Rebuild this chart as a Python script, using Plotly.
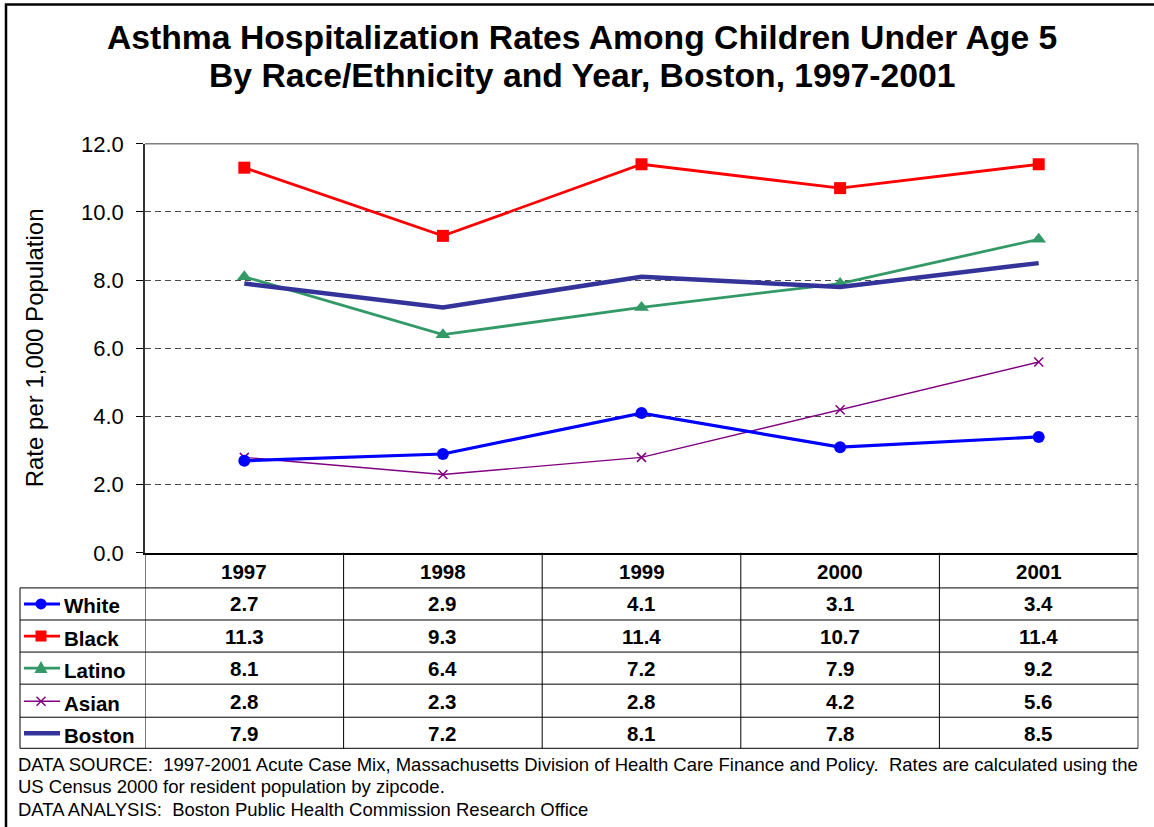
import plotly.graph_objects as go

W, H = 1154, 827

years = ["1997", "1998", "1999", "2000", "2001"]
white = [2.7, 2.9, 4.1, 3.1, 3.4]
black = [11.3, 9.3, 11.4, 10.7, 11.4]
latino = [8.1, 6.4, 7.2, 7.9, 9.2]
asian = [2.8, 2.3, 2.8, 4.2, 5.6]
boston = [7.9, 7.2, 8.1, 7.8, 8.5]

series_names = ["White", "Black", "Latino", "Asian", "Boston"]
series_values = [white, black, latino, asian, boston]
colors = {"White": "#0000FF", "Black": "#FF0000", "Latino": "#339966",
          "Asian": "#800080", "Boston": "#333399"}

FONT = "Liberation Sans, Arial, sans-serif"

# the viewer shows the page slightly compressed vertically; compensate
VS, VO = 0.9674, 13.5


def px(x):
    return x / W


def py(y):
    return 1 - ((y - VO) / VS) / H


# plot area in pixels (target screen positions)
PL, PR, PT, PB = 145, 1138, 145, 553

fig = go.Figure()

styles = {
    "White": dict(mode="lines+markers", line=dict(width=3.2),
                  marker=dict(symbol="circle", size=12)),
    "Black": dict(mode="lines+markers", line=dict(width=2.8),
                  marker=dict(symbol="square", size=12)),
    "Latino": dict(mode="lines+markers", line=dict(width=2.8),
                   marker=dict(symbol="triangle-up", size=13)),
    "Asian": dict(mode="lines+markers", line=dict(width=1.4),
                  marker=dict(symbol="x-thin", size=9, line=dict(width=1.5))),
    "Boston": dict(mode="lines", line=dict(width=4.5)),
}

draw_order = ["Asian", "White", "Latino", "Boston", "Black"]
for name in draw_order:
    vals = series_values[series_names.index(name)]
    st = styles[name]
    c = colors[name]
    line = dict(st["line"], color=c)
    kw = dict(x=list(range(len(years))), y=vals, name=name, mode=st["mode"], line=line,
              showlegend=False, cliponaxis=False)
    if "marker" in st:
        m = dict(st["marker"], color=c)
        if "line" in m:
            m["line"] = dict(m["line"], color=c)
        kw["marker"] = m
    fig.add_trace(go.Scatter(**kw))

shapes = []
annotations = []

# outer frame
shapes.append(dict(type="rect", xref="paper", yref="paper",
                   x0=px(6), x1=px(W + 10), y0=py(H + 10), y1=py(6),
                   line=dict(color="black", width=2.5), layer="below"))

# plot area top / right gray border
shapes.append(dict(type="line", xref="paper", yref="paper",
                   x0=px(PL), x1=px(PR), y0=py(PT), y1=py(PT),
                   line=dict(color="#808080", width=1.5)))
shapes.append(dict(type="line", xref="paper", yref="paper",
                   x0=px(PR), x1=px(PR), y0=py(PT), y1=py(748),
                   line=dict(color="#808080", width=1.5)))

# table geometry
row_lines = [588, 620, 652, 684, 717, 748]
row_centers = [604, 636, 668, 701, 733]
header_y = 572
TL = 20
TFS = 20.5

for yl in row_lines:
    shapes.append(dict(type="line", xref="paper", yref="paper",
                       x0=px(TL), x1=px(PR), y0=py(yl), y1=py(yl),
                       line=dict(color="black", width=1)))
# left border of legend column
shapes.append(dict(type="line", xref="paper", yref="paper",
                   x0=px(TL), x1=px(TL), y0=py(588), y1=py(748),
                   line=dict(color="black", width=1)))
# vertical column separators at category boundaries
for i in range(len(years)):
    shapes.append(dict(type="line", xref="x", yref="paper",
                       x0=i - 0.5, x1=i - 0.5, y0=py(PB), y1=py(748),
                       line=dict(color="black", width=1)))

# header years
for i, yr in enumerate(years):
    annotations.append(dict(x=i, y=py(header_y), xref="x", yref="paper",
                            text="<b>%s</b>" % yr, showarrow=False,
                            font=dict(family=FONT, size=TFS, color="black"),
                            xanchor="center", yanchor="middle"))

# values and legend entries
for r, name in enumerate(series_names):
    yc = row_centers[r]
    for i, v in enumerate(series_values[r]):
        annotations.append(dict(x=i, y=py(yc), xref="x", yref="paper",
                                text="<b>%.1f</b>" % v, showarrow=False,
                                font=dict(family=FONT, size=TFS, color="black"),
                                xanchor="center", yanchor="middle"))
    annotations.append(dict(x=px(62), y=py(yc + 2), xref="paper", yref="paper",
                            text="<b>%s</b>" % name, showarrow=False,
                            font=dict(family=FONT, size=TFS, color="black"),
                            xanchor="left", yanchor="middle"))
    c = colors[name]
    lw = min(styles[name]["line"]["width"], 3) if name != "Boston" else 4.5
    shapes.append(dict(type="line", xref="paper", yref="paper",
                       x0=px(24), x1=px(60), y0=py(yc), y1=py(yc),
                       line=dict(color=c, width=lw)))
    mx = 41
    if name == "White":
        shapes.append(dict(type="circle", xref="paper", yref="paper",
                           x0=px(mx - 5.5), x1=px(mx + 5.5), y0=py(yc + 5.5), y1=py(yc - 5.5),
                           fillcolor=c, line=dict(color=c, width=0)))
    elif name == "Black":
        shapes.append(dict(type="rect", xref="paper", yref="paper",
                           x0=px(mx - 5.5), x1=px(mx + 5.5), y0=py(yc + 5.5), y1=py(yc - 5.5),
                           fillcolor=c, line=dict(color=c, width=0)))
    elif name == "Latino":
        path = "M %f %f L %f %f L %f %f Z" % (px(mx - 6.5), py(yc + 5), px(mx + 6.5), py(yc + 5),
                                            px(mx), py(yc - 7))
        shapes.append(dict(type="path", xref="paper", yref="paper", path=path,
                           fillcolor=c, line=dict(color=c, width=0)))
    elif name == "Asian":
        shapes.append(dict(type="line", xref="paper", yref="paper",
                           x0=px(mx - 4.5), x1=px(mx + 4.5), y0=py(yc - 4.5), y1=py(yc + 4.5),
                           line=dict(color=c, width=1.5)))
        shapes.append(dict(type="line", xref="paper", yref="paper",
                           x0=px(mx - 4.5), x1=px(mx + 4.5), y0=py(yc + 4.5), y1=py(yc - 4.5),
                           line=dict(color=c, width=1.5)))

# title (two lines)
title_lines = ["Asthma Hospitalization Rates Among Children Under Age 5",
               "By Race/Ethnicity and Year, Boston, 1997-2001"]
for i, t in enumerate(title_lines):
    annotations.append(dict(x=px(582), y=py(38 + 38 * i), xref="paper", yref="paper",
                            text="<b>%s</b>" % t, showarrow=False,
                            font=dict(family=FONT, size=33.7, color="black"),
                            xanchor="center", yanchor="middle"))

# y-axis title
annotations.append(dict(x=px(34), y=py(349), xref="paper", yref="paper",
                        text="Rate per 1,000 Population", textangle=-90,
                        showarrow=False,
                        font=dict(family=FONT, size=24, color="black"),
                        xanchor="center", yanchor="middle"))

# footer
footer = [
    "DATA SOURCE:  1997-2001 Acute Case Mix, Massachusetts Division of Health Care Finance and Policy.  Rates are calculated using the",
    "US Census 2000 for resident population by zipcode.",
    "DATA ANALYSIS:  Boston Public Health Commission Research Office",
]
for i, t in enumerate(footer):
    annotations.append(dict(x=px(16), y=py(764 + 22.5 * i), xref="paper", yref="paper",
                            text=t, showarrow=False,
                            font=dict(family=FONT, size=18.5, color="black"),
                            xanchor="left", yanchor="middle"))

fig.update_layout(
    width=W, height=H, autosize=False,
    margin=dict(l=0, r=0, t=0, b=0, pad=0),
    paper_bgcolor="white", plot_bgcolor="white",
    showlegend=False,
    shapes=shapes, annotations=annotations,
    xaxis=dict(domain=[px(PL), px(PR)], range=[-0.5, 4.5], type="linear",
               showticklabels=False, ticks="", showgrid=False, zeroline=False,
               showline=True, linecolor="black", linewidth=1.5, fixedrange=True),
    yaxis=dict(domain=[py(PB), py(PT)], range=[0, 12], tickvals=[0, 2, 4, 6, 8, 10, 12],
               tickformat=".1f", ticks="outside", ticklen=7, tickcolor="black",
               tickwidth=1, showline=True, linecolor="#333333", linewidth=1.5,
               showgrid=True, gridcolor="#4a4a4a", gridwidth=1.2, griddash="6px,4px",
               zeroline=False, ticklabelstandoff=8,
               tickfont=dict(family=FONT, size=22, color="black"), fixedrange=True),
)

post = ("document.documentElement.style.margin='0';"
        "document.documentElement.style.overflow='hidden';"
        "document.body.style.margin='0';document.body.style.padding='0';"
        "document.body.style.overflow='hidden';"
        "var gd=document.getElementById('{plot_id}');"
        "gd.style.position='fixed';gd.style.top='0px';gd.style.left='0px';")

fig.write_html("out.html", config={"responsive": False, "displayModeBar": False},
               post_script=post)
